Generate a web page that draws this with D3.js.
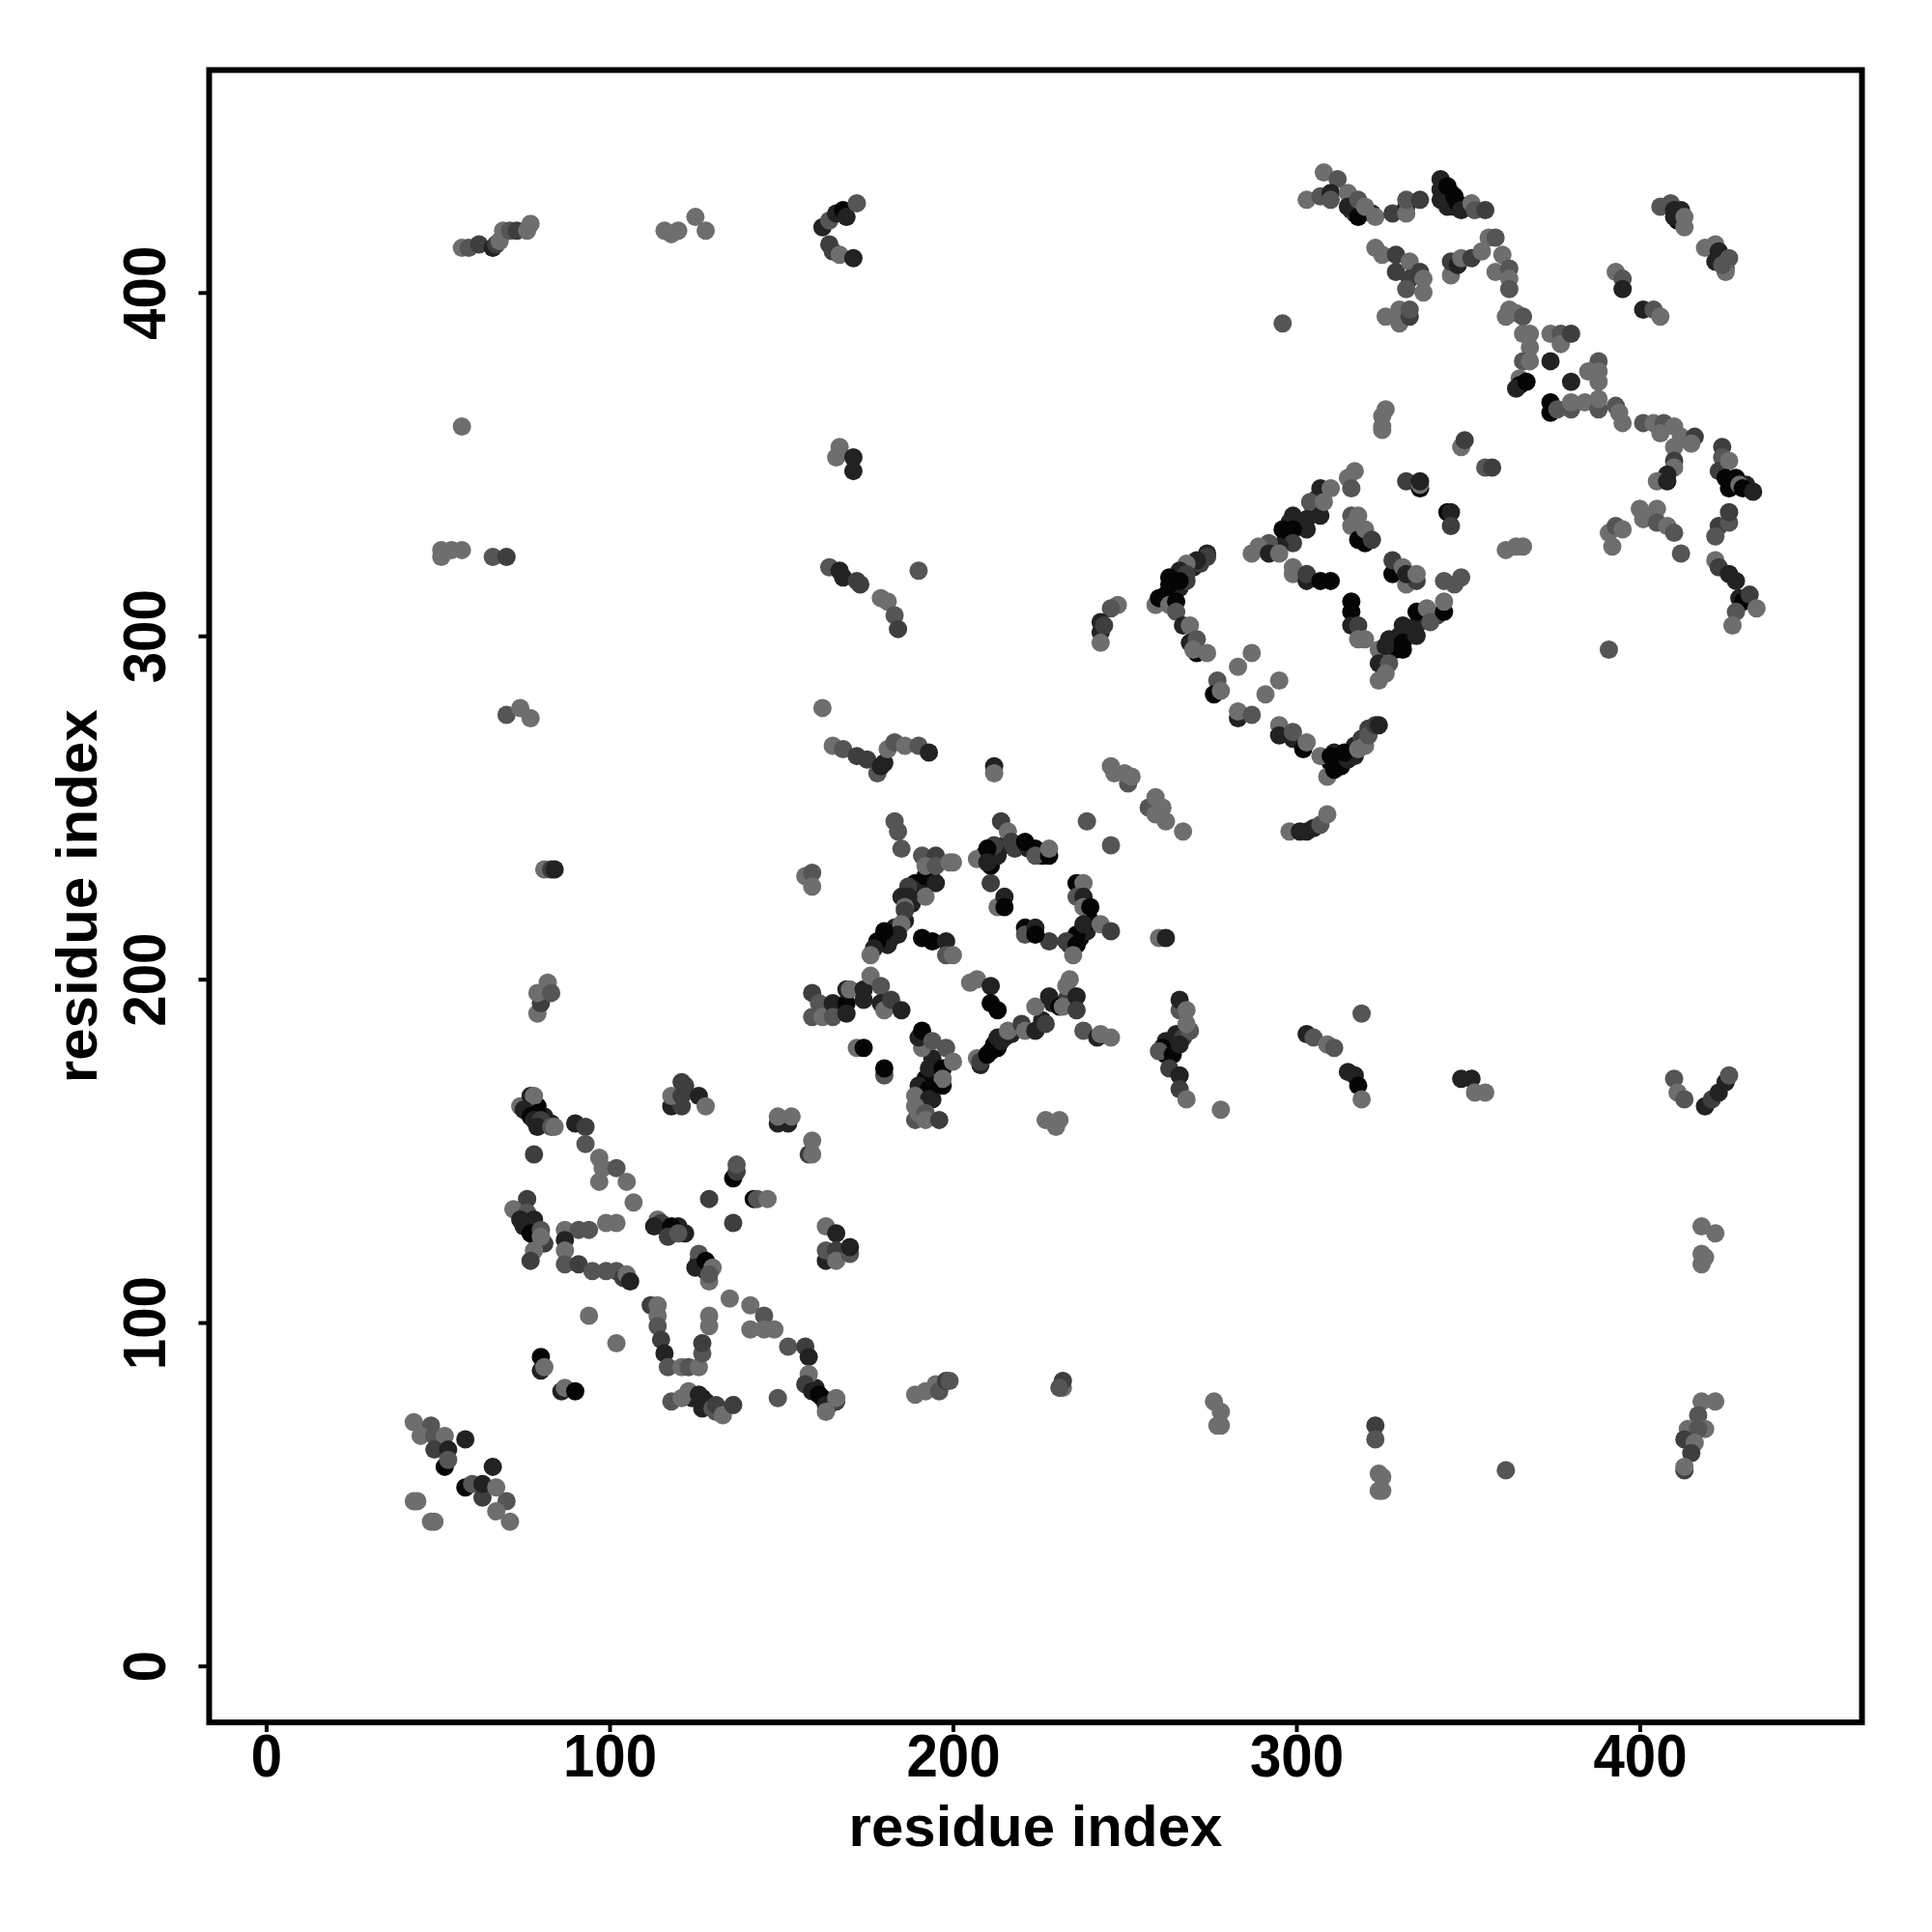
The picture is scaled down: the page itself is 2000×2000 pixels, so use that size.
<!DOCTYPE html>
<html><head><meta charset="utf-8">
<script src="https://cdn.jsdelivr.net/npm/d3@7/dist/d3.min.js"></script>
<style>html,body{margin:0;background:#fff}svg{display:block}</style></head>
<body><div id="c"></div>
<script>
const tickValues=[0,100,200,300,400];
const axisLabel="residue index";
const shades=["#050505","#222222","#3e3e3e","#555555","#6e6e6e"];
// [residue x, residue y, shade index]
const clusterDense=[[79,163,0],[81,160,1],[83,158,1],[75,128,1],[77,129,0],[79,124,1],[81,123,2],[182,214,0],[183,215,1],[181,210,1],[186,217,1],[188,222,1],[189,228,0],[194,229,0],[190,226,1],[209,236,0],[211,233,0],[213,236,1],[215,239,1],[218,238,2],[222,238,1],[226,236,0],[237,212,0],[239,214,1],[240,217,0],[234,210,1],[211,179,0],[213,180,0],[215,183,1],[217,184,1],[208,175,1],[229,193,1],[233,194,2],[226,188,1],[191,163,2],[194,165,1],[195,171,1],[192,171,0],[194,177,1],[262,178,0],[263,180,0],[264,182,0],[265,184,1],[267,183,2],[261,310,0],[262,312,0],[264,314,0],[266,314,1],[268,316,2],[270,320,1],[272,321,2],[297,329,0],[298,333,1],[301,333,0],[305,337,1],[306,340,2],[313,262,0],[315,266,0],[317,268,1],[319,270,2],[321,273,2],[310,263,0],[311,266,1],[329,296,0],[330,300,1],[333,301,1],[337,305,1],[341,306,2],[343,430,0],[345,429,1],[346,425,1],[349,425,1],[316,424,1],[317,423,2],[322,423,1],[411,421,0],[423,411,0],[425,407,2],[427,345,1],[427,344,0],[431,344,1],[120,128,1],[122,126,1],[127,117,0],[128,115,1],[126,118,1],[160,81,1],[162,78,1],[164,76,2],[127,78,0],[129,76,1],[131,74,3],[124,78,1]];
const clusterBL=[[43,71,4],[48,70,3],[45,67,4],[49,67,3],[52,67,4],[58,66,1],[49,63,2],[52,58,0],[53,63,1],[53,60,3],[66,58,1],[58,52,0],[60,53,3],[63,49,2],[63,53,1],[70,48,3],[67,52,4],[67,45,4],[71,42,4],[43,48,4],[44,48,4],[48,42,4],[49,42,4]];
const clusterA=[[76,163,3],[74,163,4],[77,166,1],[78,166,4],[75,162,1],[77,160,0],[79,161,0],[78,159,1],[80,159,2],[79,157,1],[83,157,3],[84,157,4],[90,158,1],[93,157,2],[93,152,3],[97,148,4],[98,145,4],[102,145,3],[97,141,4],[105,141,4],[78,149,2],[107,135,4]];
const clusterB=[[76,136,2],[72,133,4],[76,132,3],[74,130,1],[78,130,1],[77,126,0],[80,127,3],[80,125,4],[78,121,4],[77,118,2],[87,127,4],[91,127,3],[94,127,3],[87,124,1],[87,121,4],[87,117,3],[91,117,2],[95,115,3],[99,115,3],[102,115,3],[104,113,2],[105,114,4],[106,112,1],[99,129,4],[102,129,4]];
const clusterC=[[114,130,4],[115,129,2],[113,128,1],[118,128,0],[117,125,2],[120,126,3],[126,120,3],[125,116,1],[128,118,0],[130,116,4],[129,112,4],[129,114,3],[112,105,2],[114,105,4],[114,102,4],[114,99,3],[115,95,2],[116,91,1],[117,87,3],[121,87,4],[123,87,3],[126,87,4],[127,91,3],[127,94,2],[129,102,4],[129,99,4]];
const clusterD=[[135,107,4],[141,105,4],[145,102,3],[141,98,4],[145,98,4],[148,98,4],[152,93,3],[157,93,2],[158,90,1],[158,85,4],[157,82,2],[159,80,1],[161,79,0],[163,76,1],[166,77,2],[166,78,4],[163,74,4],[149,78,3],[94,102,4],[102,94,4],[80,90,0],[80,86,1],[81,87,4],[86,80,1],[87,81,4],[90,80,0]];
const clusterE=[[118,77,3],[121,78,4],[123,80,4],[126,79,1],[128,77,1],[127,75,1],[130,75,3],[131,76,2],[133,73,4],[136,76,2],[118,163,1],[121,163,2],[121,170,2],[122,169,2],[118,166,4],[121,166,2],[126,166,1],[128,163,4],[149,158,1],[152,158,1],[149,160,4],[153,160,4],[158,149,2],[159,153,4],[159,149,4],[136,142,0],[137,144,2],[137,146,3],[129,136,2],[142,136,0],[143,136,3],[146,136,4],[136,129,2],[163,128,4],[166,126,1],[163,118,1],[163,121,3],[166,121,2],[166,118,4],[170,120,3],[170,122,1]];
const clusterF=[[212,262,1],[212,260,4],[239,246,3],[246,239,3],[267,243,4],[251,257,3],[246,262,4],[247,260,4],[250,260,4],[252,259,4],[257,250,3],[259,253,4],[261,250,4],[259,248,4],[262,246,4],[183,246,3],[184,243,3],[185,238,3],[157,230,4],[159,231,3],[159,227,4]];
const clusterG=[[191,236,3],[195,236,2],[192,230,0],[195,228,1],[192,224,4],[192,233,4],[195,233,3],[199,234,4],[200,234,4],[187,227,2],[185,224,1],[187,224,1],[186,221,4],[186,220,2],[185,216,4],[184,213,1],[182,212,1],[180,214,0],[178,211,0],[177,209,1],[176,207,4],[191,212,0],[194,211,0],[198,211,1],[198,207,3],[200,207,4]];
const clusterH=[[207,235,4],[214,246,2],[216,243,4],[212,239,2],[210,238,0],[210,234,1],[217,240,2],[221,240,0],[224,238,0],[224,236,3],[228,236,0],[228,238,4],[211,228,2],[213,221,4],[215,224,1],[215,221,0],[236,228,0],[238,228,4],[236,224,3],[238,224,1],[238,221,4],[240,221,0],[236,213,0],[238,216,1],[243,216,4],[246,214,2],[233,211,2],[236,210,0],[235,207,4],[228,211,2],[221,215,0],[221,213,3],[224,215,1],[224,213,0],[260,212,4],[262,212,1]];
const clusterI=[[159,196,2],[161,193,3],[159,189,3],[162,189,4],[165,193,1],[165,189,3],[169,193,0],[169,190,1],[169,197,1],[170,197,4],[174,194,1],[174,197,1],[176,201,4],[179,198,3],[179,193,1],[180,191,4],[182,194,2],[185,191,1],[172,180,4],[174,180,0],[180,172,3],[180,174,0]];
const clusterJ=[[191,180,4],[190,183,1],[191,185,0],[194,182,3],[198,180,3],[193,174,1],[197,174,0],[200,176,4],[197,169,0],[197,171,4],[190,169,1],[193,168,0],[189,166,4],[193,165,1],[189,163,4],[189,159,3],[190,161,4],[192,161,3],[192,159,4],[196,159,2],[207,177,4],[208,176,2],[210,178,0],[212,181,0],[214,182,1],[213,183,1],[216,185,4],[220,187,2],[221,185,4],[224,185,1],[227,187,2],[224,192,4],[228,195,1],[231,192,0],[232,192,4],[233,198,4],[234,200,4],[236,195,1],[236,191,2],[207,200,4],[205,199,4],[211,198,1],[211,193,0],[213,191,0],[238,185,3],[242,183,1],[243,184,4],[246,183,4],[227,159,4],[231,159,4],[230,157,4]];
const clusterK=[[266,191,3],[266,194,1],[268,191,4],[269,185,3],[268,187,4],[262,182,1],[261,180,0],[260,179,3],[264,178,0],[266,181,1],[263,174,2],[266,172,1],[266,168,2],[268,165,4],[278,162,4]];
const clusterL=[[325,360,4],[325,361,4],[325,364,4],[326,366,4],[348,355,4],[349,357,2],[355,349,3],[357,349,2],[317,348,4],[315,346,4],[316,343,3],[332,345,2],[336,343,0],[336,344,4],[336,345,1],[344,336,0],[345,336,1],[345,332,2],[361,325,4],[364,326,4],[366,326,4]];
const clusterM=[[307,343,1],[310,343,4],[304,339,3],[307,335,1],[308,339,4],[299,335,1],[303,334,1],[303,331,1],[296,331,0],[299,331,0],[299,327,2],[295,326,1],[292,327,3],[289,326,4],[287,324,4],[292,324,1],[295,324,4],[299,320,4],[299,318,4],[303,316,1],[303,318,2],[307,316,0],[310,316,0],[316,335,3],[318,335,4],[316,332,4],[318,328,0],[320,327,0],[320,331,4],[322,328,2],[328,318,0],[328,322,2],[332,315,4],[335,316,2],[331,320,4],[332,318,1],[335,318,4],[343,316,3],[346,315,3],[348,317,3]];
const clusterN=[[316,310,0],[316,307,0],[316,303,1],[318,303,2],[318,299,4],[320,299,4],[324,296,4],[324,292,1],[327,299,1],[326,297,1],[327,292,3],[331,303,1],[331,298,0],[331,296,0],[335,300,1],[335,303,1],[335,307,0],[338,308,4],[339,304,3],[343,307,0],[343,310,4],[326,289,4],[324,287,4]];
const clusterO=[[274,324,1],[274,323,2],[271,322,1],[268,321,4],[266,319,1],[268,318,2],[263,317,0],[263,315,0],[266,316,0],[259,309,4],[260,311,0],[263,309,4],[265,310,0],[265,307,3],[267,303,1],[269,303,4],[269,298,1],[271,299,3],[271,295,0],[270,296,4],[274,295,4],[287,295,4],[283,291,4],[277,287,3],[276,283,0],[278,284,4],[283,276,1],[283,278,4],[287,277,3],[291,283,4],[295,287,4]];
const clusterP=[[295,274,4],[295,271,1],[299,270,1],[299,272,3],[302,267,0],[303,269,4],[307,265,4],[309,259,4],[310,265,0],[311,261,0],[315,264,1],[317,265,1],[314,266,0],[318,267,4],[320,268,4],[321,271,3],[323,274,2],[324,274,1],[248,309,4],[246,308,3],[243,304,1],[243,301,1],[244,303,2],[243,298,4],[298,243,4],[301,243,1],[303,243,1],[305,244,1],[307,245,3],[309,248,4]];
const clusterQ=[[308,435,4],[312,433,3],[303,427,4],[307,428,3],[310,429,1],[310,427,3],[315,429,4],[315,425,1],[318,422,0],[318,427,3],[320,425,4],[323,422,4],[328,423,2],[332,425,1],[332,423,4],[332,427,3],[336,427,2],[342,433,1],[342,430,1],[342,427,1],[344,431,0],[344,425,1],[346,428,0],[347,426,0],[348,424,1],[351,426,4],[352,424,3],[355,424,2]];
const clusterR=[[323,413,4],[325,411,4],[329,411,2],[329,406,2],[333,409,4],[333,404,2],[336,406,2],[337,404,4],[332,401,3],[337,400,4],[326,393,4],[330,391,4],[330,395,4],[333,393,2],[333,395,3],[296,391,3],[345,405,4],[345,409,2],[347,408,1],[348,410,4],[351,410,2],[354,412,4],[356,416,4],[358,416,3],[360,411,4],[358,406,4],[362,407,3],[362,404,4],[362,401,3]];
const clusterS=[[362,395,4],[361,393,4],[364,394,4],[366,393,3],[366,388,4],[368,388,4],[368,384,4],[366,380,3],[368,380,4],[374,388,4],[377,388,3],[377,385,4],[380,388,2],[374,380,1],[380,374,1],[388,380,3],[385,377,4],[388,377,4],[388,374,4],[365,375,4],[365,373,0],[364,372,1],[367,374,0],[374,368,0],[374,365,0],[376,366,3],[380,366,3],[380,368,4],[384,368,4],[388,366,3],[388,369,4]];
const clusterT=[[393,367,3],[394,365,4],[395,362,4],[401,362,3],[404,362,4],[407,362,3],[406,359,4],[410,361,4],[412,358,4],[416,358,2],[415,356,4],[410,355,4],[410,351,2],[410,349,4],[408,347,1],[405,345,4],[408,345,1],[424,355,2],[424,352,3],[423,348,2],[426,351,4],[425,346,0],[428,346,0],[426,343,0],[429,344,4],[430,343,0],[433,342,1],[393,406,4],[395,404,3],[395,401,1],[401,395,1],[404,395,3],[406,393,4],[406,425,3],[409,426,3],[410,424,1],[412,424,1],[410,422,1],[413,422,4],[413,419,4],[419,413,4],[422,414,4],[423,412,1],[422,409,1],[426,410,3],[425,406,4],[424,408,3]];
const clusterU=[[391,330,4],[392,326,4],[393,332,3],[395,331,4],[400,337,4],[401,334,4],[405,337,4],[405,333,3],[408,332,4],[410,330,3],[412,324,3],[423,332,2],[422,329,3],[426,333,3],[426,336,2],[422,322,4],[423,320,2],[426,318,1],[428,316,1],[429,311,1],[430,310,0],[432,312,2],[428,307,3],[427,303,4],[434,308,4],[391,296,3]];
const clusterV=[[57,413,4],[59,413,3],[62,414,2],[66,413,1],[67,414,2],[68,415,4],[69,418,4],[71,418,3],[73,418,2],[76,418,4],[77,420,4],[116,418,4],[118,417,4],[120,418,4],[125,422,4],[128,418,4],[162,419,1],[164,414,2],[165,412,2],[167,411,4],[171,410,1],[164,421,3],[166,423,1],[168,424,0],[169,422,1],[172,426,3]];
const clusterW=[[57,361,4],[167,355,4],[166,352,4],[171,352,1],[171,348,1],[51,325,4],[51,323,4],[54,325,4],[57,325,4],[66,323,3],[70,323,2],[164,320,3],[167,319,1],[168,317,1],[172,316,2],[173,315,2],[179,311,4],[181,310,4],[183,306,3],[184,302,2],[190,319,3],[70,277,3],[74,279,4],[77,276,4]];
const clusterX=[[162,279,4],[165,268,4],[168,267,3],[172,265,2],[175,264,2],[178,260,3],[179,262,1],[180,263,1],[181,267,4],[183,269,3],[186,268,4],[190,268,3],[193,266,1],[81,232,4],[83,232,2],[84,232,1],[79,190,4],[80,193,2],[79,196,4],[82,199,4],[83,196,3]];
const clusterY=[[303,184,1],[305,183,3],[309,181,4],[311,180,3],[315,173,1],[317,172,1],[318,169,0],[319,165,4],[319,190,3],[348,171,1],[351,171,1],[352,167,4],[355,167,4],[410,171,3],[411,167,4],[413,165,3],[419,163,1],[421,165,2],[423,167,1],[425,170,1],[426,172,3]];
const clusterZ=[[418,128,4],[422,126,4],[418,120,4],[419,119,4],[418,117,4],[418,77,4],[422,77,4],[417,73,3],[419,69,4],[414,69,4],[417,69,3],[413,66,2],[416,65,4],[415,62,2],[413,57,2],[413,58,4],[323,70,2],[323,66,3],[324,56,4],[325,55,4],[324,51,4],[325,51,4],[361,57,3],[276,77,4],[278,74,4],[277,70,4],[278,70,4],[232,81,4],[232,83,2],[231,81,3],[189,79,4],[192,80,4],[195,82,4],[196,80,3],[198,83,2],[199,83,3]];

const points=[].concat(clusterDense,clusterBL,clusterA,clusterB,clusterC,clusterD,clusterE,clusterF,clusterG,clusterH,clusterI,clusterJ,clusterK,clusterL,clusterM,clusterN,clusterO,clusterP,clusterQ,clusterR,clusterS,clusterT,clusterU,clusterV,clusterW,clusterX,clusterY,clusterZ);

const svg=d3.select("#c").append("svg").attr("width",2000).attr("height",2000);
const L=216.5,R=1927.5,T=72.5,B=1783;
const x=d3.scaleLinear().domain([-16.6,464.7]).range([L,R]);
const y=d3.scaleLinear().domain([-16.45,464.8]).range([B,T]);
const font="'Liberation Sans',Arial,sans-serif";

svg.append("g").selectAll("circle").data(points).join("circle")
  .attr("cx",d=>x(d[0])).attr("cy",d=>y(d[1])).attr("r",9.5).attr("fill",d=>shades[d[2]]);

const gx=svg.append("g").attr("transform",`translate(0,${B})`)
  .call(d3.axisBottom(x).tickValues(tickValues).tickSize(10));
const gy=svg.append("g").attr("transform",`translate(${L},0)`)
  .call(d3.axisLeft(y).tickValues(tickValues).tickSize(11));
[gx,gy].forEach(g=>{g.select(".domain").remove();
  g.selectAll("line").attr("stroke","#000").attr("stroke-width",4);
  g.selectAll("text").attr("font-family",font).attr("font-weight","bold").attr("font-size",63).attr("fill","#000");});
gx.selectAll("text").attr("dy",null).attr("y",0).attr("text-anchor","middle")
  .attr("transform","translate(0,56) scale(0.925,1)");
gy.selectAll("text").attr("x",0).attr("dy",null).attr("text-anchor","middle")
  .attr("transform","translate(-46,0) rotate(-90) scale(0.925,1)");

svg.append("rect").attr("x",L).attr("y",T).attr("width",R-L).attr("height",B-T)
  .attr("fill","none").attr("stroke","#000").attr("stroke-width",6);

svg.append("text").attr("x",(L+R)/2).attr("y",1911).attr("text-anchor","middle")
  .attr("font-family",font).attr("font-weight","bold").attr("font-size",60).text(axisLabel);
svg.append("text").attr("transform",`translate(100,${(T+B)/2}) rotate(-90)`).attr("text-anchor","middle")
  .attr("font-family",font).attr("font-weight","bold").attr("font-size",60).text(axisLabel);
</script></body></html>
